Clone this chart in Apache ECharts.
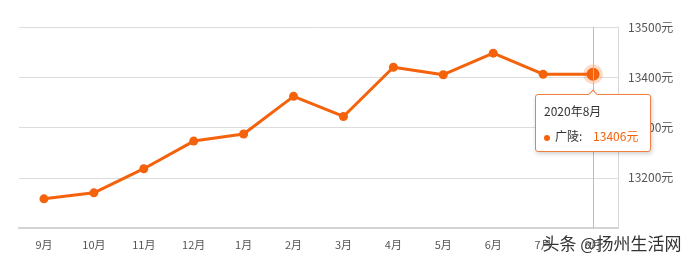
<!DOCTYPE html>
<html><head><meta charset="utf-8">
<script src="https://cdn.jsdelivr.net/npm/echarts@6/dist/echarts.min.js"></script>
<style>html,body{margin:0;padding:0;background:#fff}#c{width:695px;height:268px}</style>
</head><body><div id="c"></div>
<script>
const categories = ['9月','10月','11月','12月','1月','2月','3月','4月','5月','6月','7月','8月'];
const prices = [13158, 13170, 13218, 13273, 13287, 13362, 13322, 13420, 13405, 13448, 13406, 13406];
const seriesName = '广陵';
const tipTitle = '2020年8月';
const yMin = 13100, yMax = 13500, yStep = 100;
const watermark = '头条 @扬州生活网';

const FONT = '"Noto Sans CJK SC", "Noto Sans", sans-serif';
const ORANGE = '#f4620c';
const last = prices.length - 1;
const seriesData = prices.map(function (v, i) {
  return i === last
    ? { value: v, symbolSize: 13, itemStyle: { color: ORANGE, borderColor: 'rgba(244,98,12,0.22)', borderWidth: 7 } }
    : v;
});
const chart = echarts.init(document.getElementById('c'));
chart.setOption({
  animation: false,
  textStyle: { fontFamily: FONT },
  grid: { left: 19, right: 77, top: 27, bottom: 40 },
  tooltip: {
    trigger: 'item',
    position: 'bottom',
    backgroundColor: '#fff',
    borderColor: '#f08040',
    borderWidth: 1,
    padding: [3, 12, 3, 8],
    extraCssText: 'box-shadow:1px 2px 4px rgba(0,0,0,0.18);border-radius:3px;',
    formatter: function (p) {
      return '<div style="font-family:' + FONT.replace(/"/g, "'") + ';font-size:12px;color:#333;line-height:25px">' +
        tipTitle + '<br/>' +
        '<span style="display:inline-block;width:6px;height:6px;border-radius:3px;background:' + ORANGE + ';margin-right:5px;vertical-align:middle"></span>' +
        p.seriesName + ':&nbsp;&nbsp;&nbsp;&nbsp;<span style="color:' + ORANGE + '">' + p.value + '元</span></div>';
    }
  },
  xAxis: {
    type: 'category',
    data: categories,
    boundaryGap: true,
    axisLine: { lineStyle: { color: '#d4d4d4', width: 2 } },
    axisTick: { alignWithLabel: true, length: 4, lineStyle: { color: '#d4d4d4' } },
    axisLabel: { color: '#555', fontSize: 11, margin: 11 }
  },
  yAxis: {
    type: 'value',
    position: 'right',
    min: yMin, max: yMax, interval: yStep,
    axisLine: { show: true, lineStyle: { color: '#d8d8d8' } },
    axisTick: { show: false },
    splitLine: { lineStyle: { color: '#dcdcdc' } },
    axisLabel: {
      color: '#555', fontSize: 12, margin: 10,
      formatter: function (v) { return v === yMin ? '' : v + '元'; }
    }
  },
  series: [{
    name: seriesName,
    type: 'line',
    data: seriesData,
    symbol: 'circle',
    symbolSize: 9,
    lineStyle: { color: ORANGE, width: 3 },
    itemStyle: { color: ORANGE },
    emphasis: { scale: false },
    markLine: {
      silent: true,
      symbol: 'none',
      label: { show: false },
      lineStyle: { color: '#bbb', type: 'solid', width: 1 },
      data: [{ xAxis: last }]
    }
  }],
  graphic: [{
    type: 'text',
    left: 541, top: 234,
    style: {
      text: watermark, fontSize: 17, fontFamily: FONT,
      fill: '#333', stroke: '#fff', lineWidth: 3
    }
  }]
});
chart.dispatchAction({ type: 'showTip', seriesIndex: 0, dataIndex: last });
</script></body></html>
